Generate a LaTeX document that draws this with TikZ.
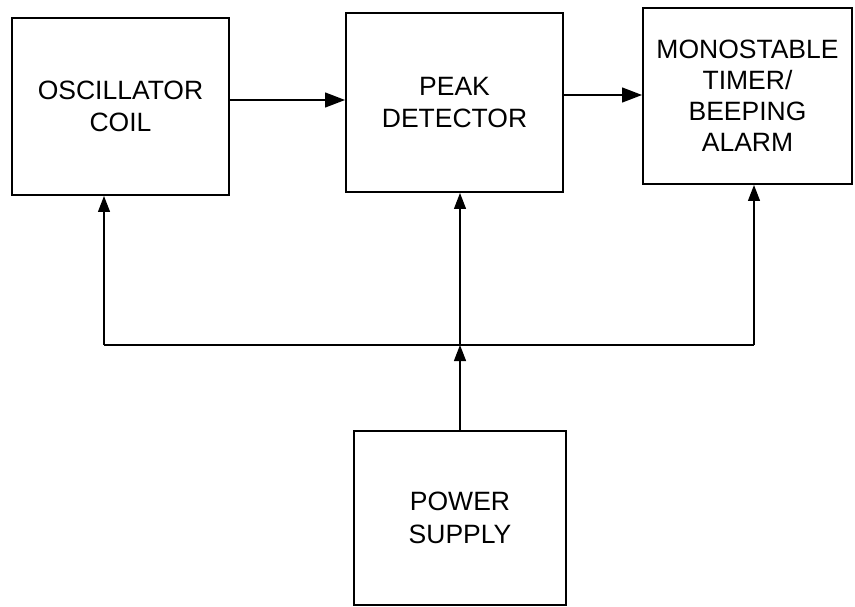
\documentclass[tikz,border=0pt]{standalone}
\usepackage{fontspec}
\setmainfont{Liberation Sans}
\usetikzlibrary{arrows.meta}
\begin{document}
\begin{tikzpicture}[x=1pt,y=-1pt,
  blockbox/.style={draw=black, line width=2pt, inner sep=0pt, align=center,
    font=\fontsize{26.5}{32.5}\selectfont},
  link/.style={draw=black, line width=1.3pt},
  harrow/.style={link, -{Triangle[length=20pt,width=15pt]}},
  varrow/.style={link, -{Triangle[length=16pt,width=12pt]}}]
\useasboundingbox (0,0) rectangle (855,607);
\node[blockbox, minimum width=217pt, minimum height=177pt] (osc) at (120.5,106.5) {OSCILLATOR\\COIL};
\node[blockbox, minimum width=217pt, minimum height=179pt] (peak) at (454.5,102.5) {PEAK\\DETECTOR};
\node[blockbox, minimum width=209pt, minimum height=176pt] (mono) at (747.5,96) {MONOSTABLE\\[-1.5pt]TIMER/\\[-1.5pt]BEEPING\\[-1.5pt]ALARM};
\node[blockbox, minimum width=212pt, minimum height=174pt] (power) at (460,518) {POWER\\SUPPLY};
\coordinate (bl) at (104,345);
\coordinate (bm) at (460,345);
\coordinate (br) at (754,345);
\draw[harrow] (osc.east |- 0,100) -- (peak.west |- 0,100);
\draw[harrow] (peak.east |- 0,95) -- (mono.west |- 0,95);
\draw[link] (bl) -- (br);
\draw[varrow] (power.north) -- (bm);
\draw[varrow] (bl) -- (bl |- osc.south);
\draw[varrow] (bm) -- (bm |- peak.south);
\draw[varrow] (br) -- (br |- mono.south);
\end{tikzpicture}
\end{document}
